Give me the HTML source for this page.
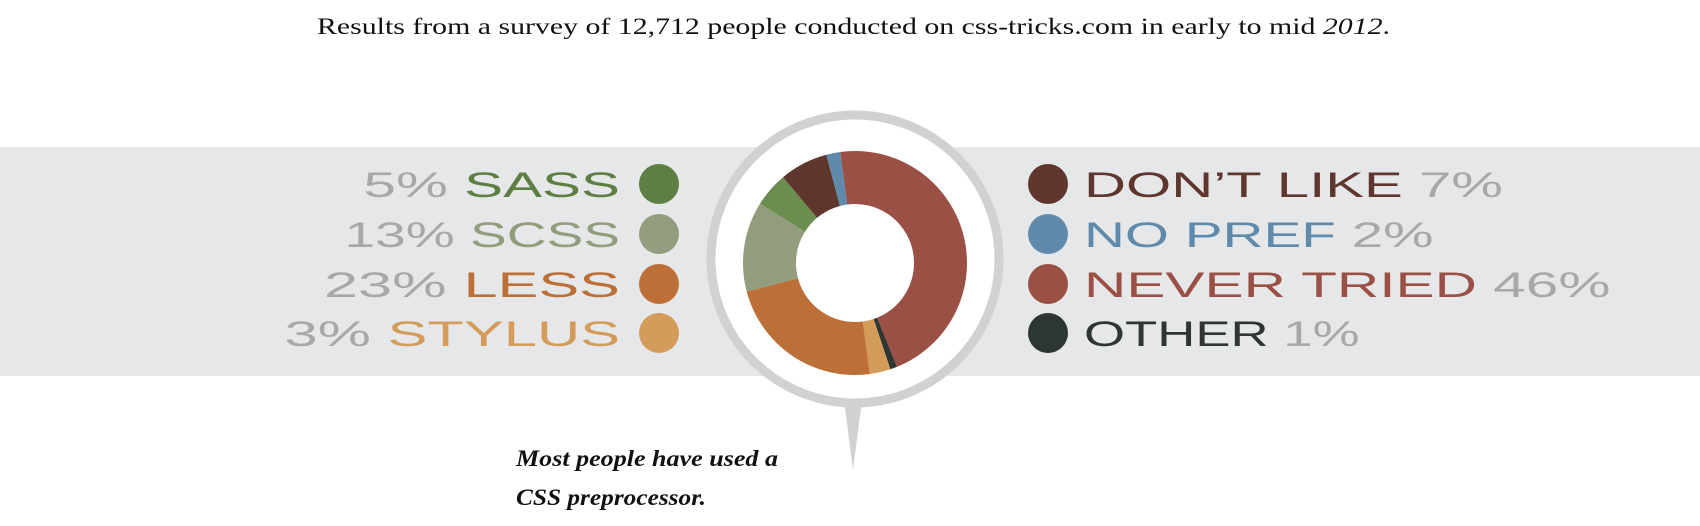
<!DOCTYPE html>
<html><head><meta charset="utf-8"><style>
html,body{margin:0;padding:0;background:#fff;}
svg{display:block;}
</style></head><body>
<svg id="chart" width="1700" height="526" viewBox="0 0 1700 526" xmlns="http://www.w3.org/2000/svg">
<text x="317" y="34" textLength="1073" lengthAdjust="spacingAndGlyphs" font-family="Liberation Serif, serif" font-size="23" fill="#111">Results from a survey of 12,712 people conducted on css-tricks.com in early to mid <tspan font-style="italic">2012</tspan>.</text>
<rect x="0" y="147" width="1700" height="229" fill="#e6e7e8"/>
<polygon points="844,400 862,400 853,470" fill="#d0d1d3"/>
<circle cx="855" cy="259" r="144" fill="#fff" stroke="#d0d1d3" stroke-width="9"/>
<g id="pie"></g>
<g id="legend"></g>
<text x="516" y="466" textLength="262" lengthAdjust="spacingAndGlyphs" font-family="Liberation Serif, serif" font-style="italic" font-weight="bold" font-size="23" fill="#111">Most people have used a</text>
<text x="516" y="505" textLength="190" lengthAdjust="spacingAndGlyphs" font-family="Liberation Serif, serif" font-style="italic" font-weight="bold" font-size="23" fill="#111">CSS preprocessor.</text>
</svg>
<script>
const categories = ["NEVER TRIED","OTHER","STYLUS","LESS","SCSS","SASS","DON\u2019T LIKE","NO PREF"];
const values = [46,1,3,23,13,5,7,2];
const colors = ["#9a5044","#2e3631","#d39c5a","#bd6f38","#939c7c","#6b8e50","#5e362d","#5f8aab"];
const leftLegend = ["SASS","SCSS","LESS","STYLUS"];
const rightLegend = ["DON\u2019T LIKE","NO PREF","NEVER TRIED","OTHER"];
const legendDotColors = {"SASS":"#5e7f43"};

const NS = "http://www.w3.org/2000/svg";
const cx = 855, cy = 263, rO = 112, rI = 59;
const startDeg = -7.6;
const total = values.reduce((a,b)=>a+b,0);
function angle(v){ return (startDeg + v/total*360) * Math.PI/180; }
function pt(r,a){ return [cx + r*Math.sin(a), cy - r*Math.cos(a)]; }
const pie = document.getElementById('pie');
let acc = 0;
values.forEach((v,i)=>{
  const a0 = angle(acc), a1 = angle(acc+v); acc += v;
  const large = (a1-a0) > Math.PI ? 1 : 0;
  const p0=pt(rO,a0), p1=pt(rO,a1), p2=pt(rI,a1), p3=pt(rI,a0);
  const path = document.createElementNS(NS,'path');
  path.setAttribute('d',`M${p0} A${rO},${rO} 0 ${large} 1 ${p1} L${p2} A${rI},${rI} 0 ${large} 0 ${p3} Z`);
  path.setAttribute('fill',colors[i]);
  
  
  pie.appendChild(path);
});

const legend = document.getElementById('legend');
const rowY = [184,234,284,333];
function measure(str){
  let w = 0;
  for (const ch of str){ w += ch===' ' ? 14 : (ch==='%' ? 45 : (ch==='1'||ch==='I' ? 19 : (ch==='\u2019' ? 11 : 39.5))); }
  return w;
}
function addEntry(cat, idx, side){
  const ci = categories.indexOf(cat);
  const pct = values[ci] + '%';
  const g = document.createElementNS(NS,'g');
  
  
  const y = rowY[idx];
  const dot = document.createElementNS(NS,'circle');
  dot.setAttribute('cx', side==='left' ? 659 : 1048);
  dot.setAttribute('cy', y);
  dot.setAttribute('r', 20);
  dot.setAttribute('fill', legendDotColors[cat] || colors[ci]);
  g.appendChild(dot);
  const t = document.createElementNS(NS,'text');
  t.setAttribute('y', y + 13);
  t.setAttribute('font-family','Liberation Sans, sans-serif');
  t.setAttribute('font-size','35');
  const str = side==='left' ? pct + ' ' + cat : cat + ' ' + pct;
  const len = measure(str);
  t.setAttribute('textLength', len);
  t.setAttribute('lengthAdjust','spacingAndGlyphs');
  if (side==='left'){ t.setAttribute('x', 620 - len); }
  else { t.setAttribute('x', 1084); }
  const a = document.createElementNS(NS,'tspan');
  const b = document.createElementNS(NS,'tspan');
  if (side==='left'){
    a.textContent = pct + ' '; a.setAttribute('fill','#a8a8a8');
    b.textContent = cat; b.setAttribute('fill', legendDotColors[cat] || colors[ci]);
  } else {
    a.textContent = cat + ' '; a.setAttribute('fill', colors[ci]);
    b.textContent = pct; b.setAttribute('fill','#a8a8a8');
  }
  t.appendChild(a); t.appendChild(b);
  g.appendChild(t);
  legend.appendChild(g);
}
leftLegend.forEach((c,i)=>addEntry(c,i,'left'));
rightLegend.forEach((c,i)=>addEntry(c,i,'right'));
</script>
</body></html>
